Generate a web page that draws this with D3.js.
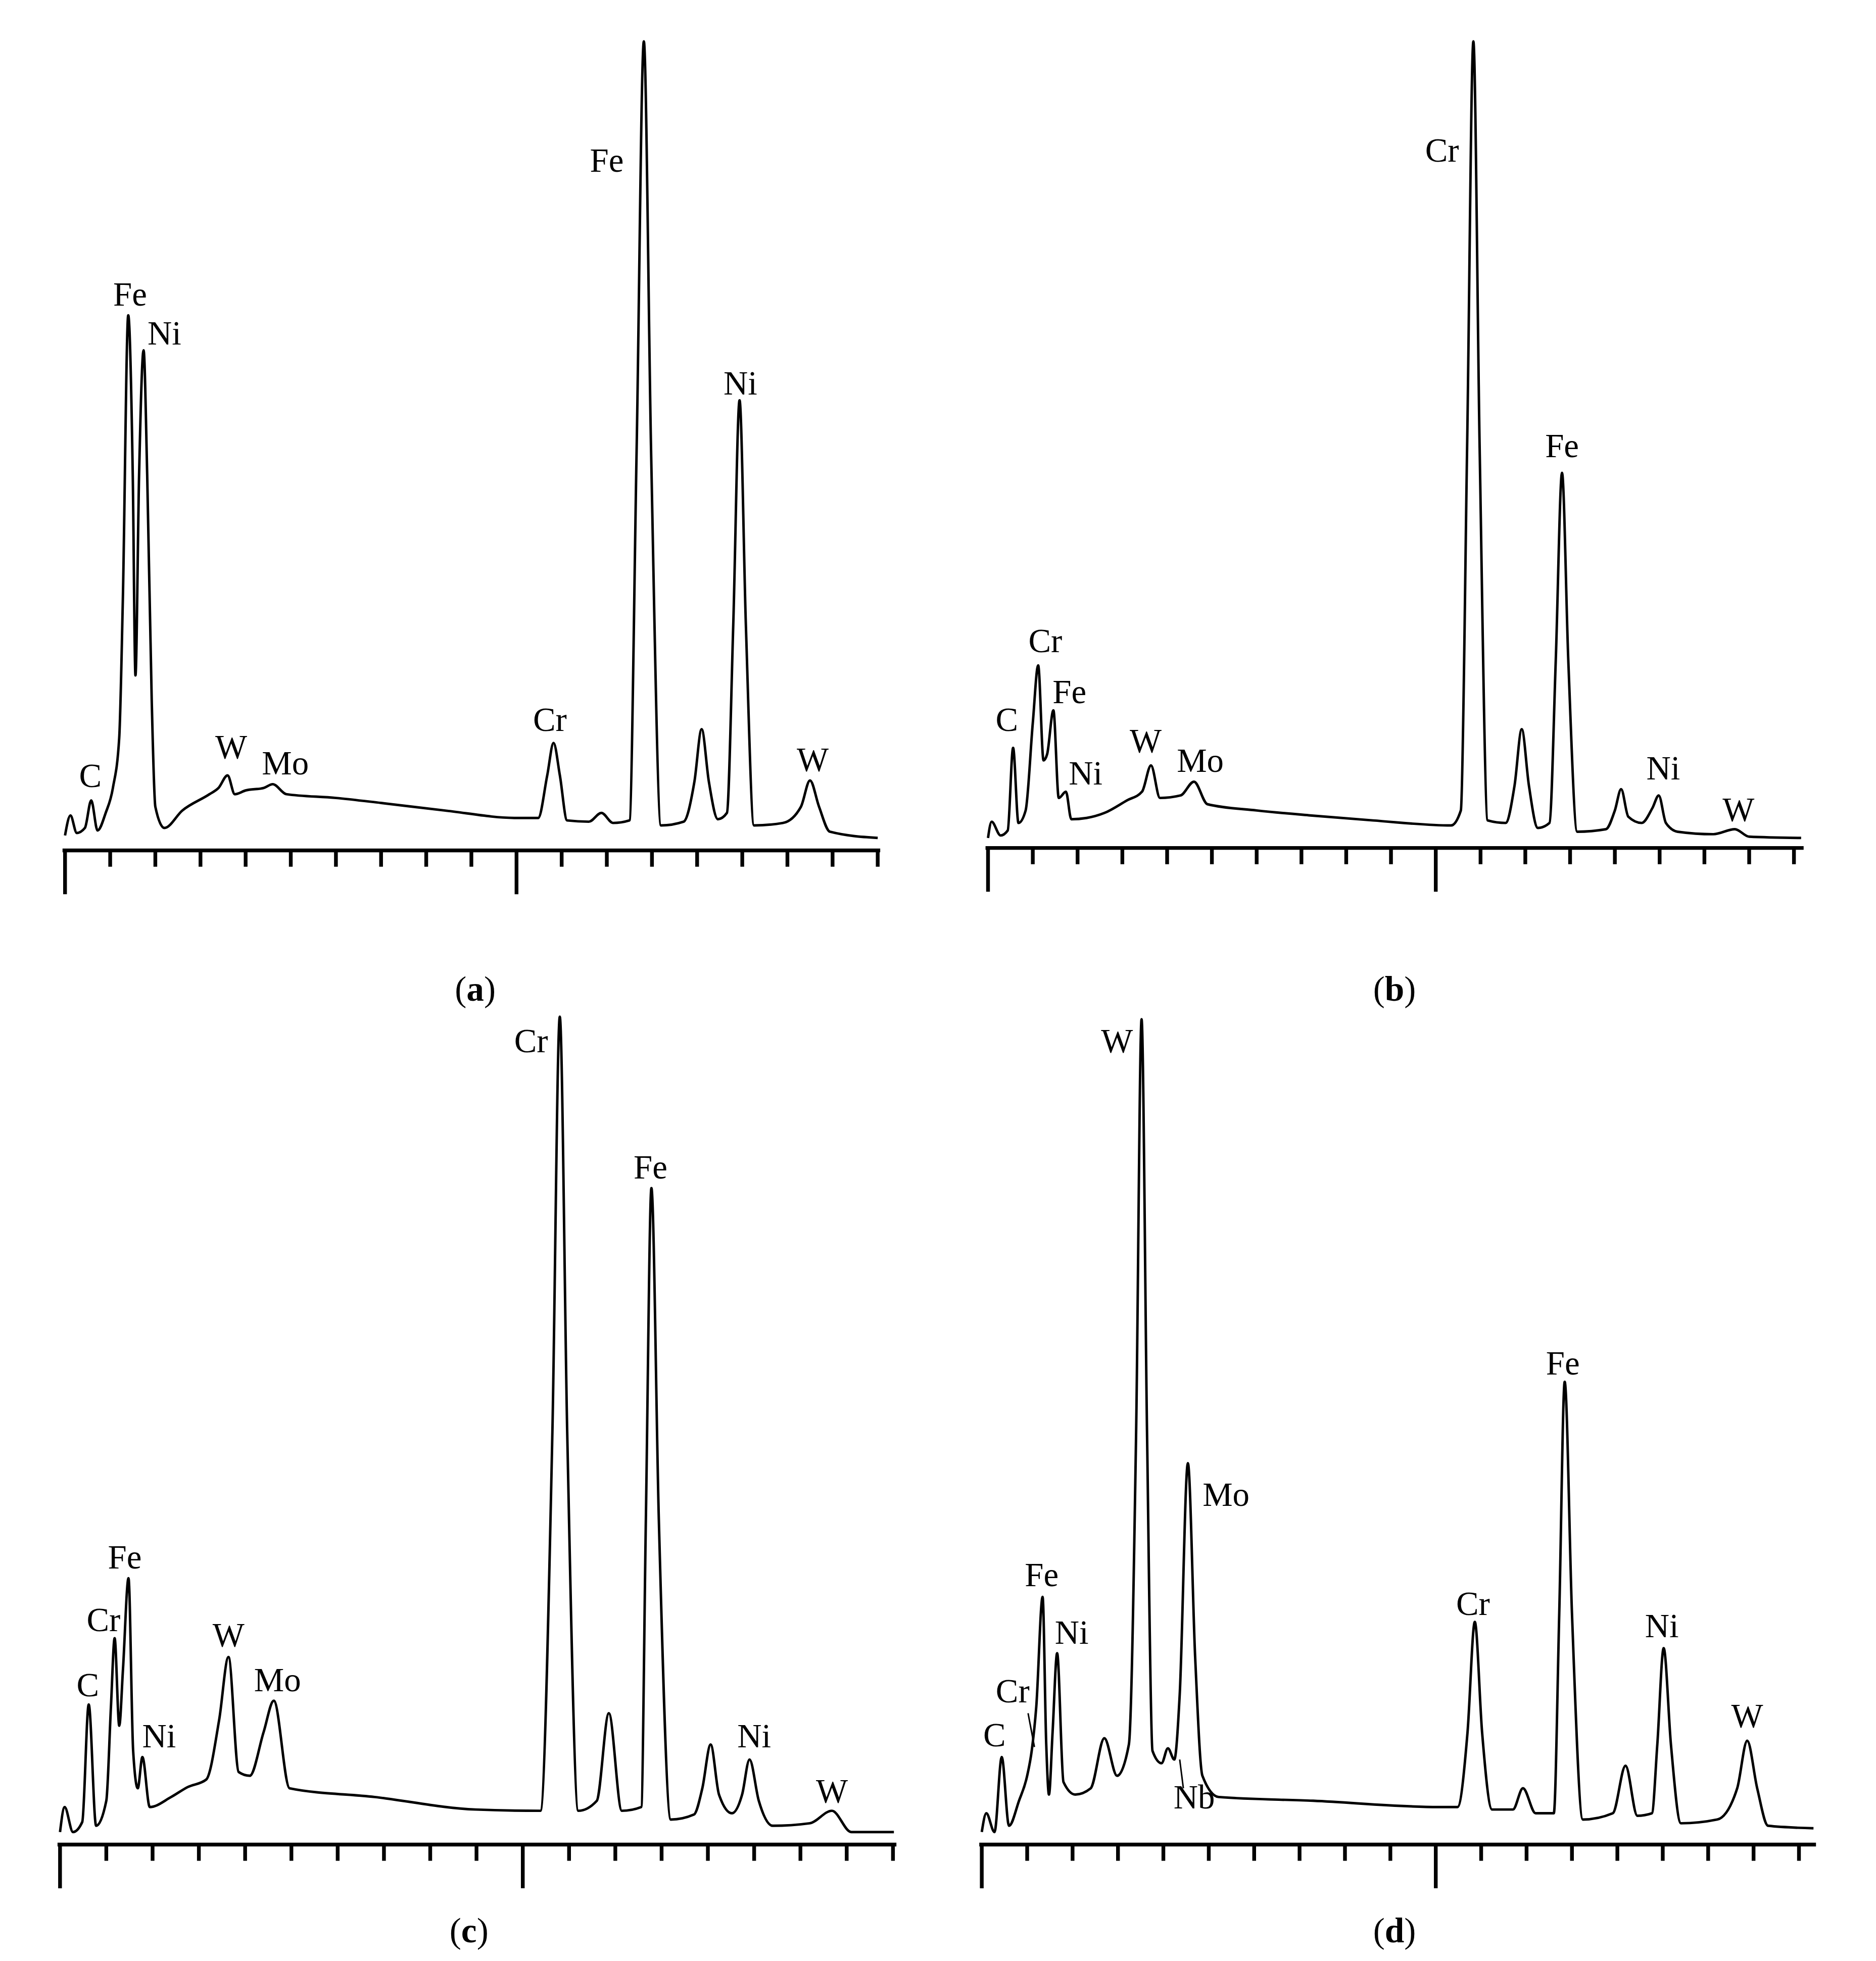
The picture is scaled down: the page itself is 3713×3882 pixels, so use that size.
<!DOCTYPE html>
<html>
<head>
<meta charset="utf-8">
<script src="https://cdn.jsdelivr.net/npm/d3@7"></script>
<style>
  body { margin: 0; background: #fff; }
  text { font-family: "Liberation Serif", "DejaVu Serif", serif; }
</style>
</head>
<body>
<div id="chart"></div>
<script>
// spectra: [energy keV, counts (arbitrary)]
const specA = [[0,12],[0.06,28],[0.13,14],[0.22,18],[0.29,40],[0.36,16],[0.45,30],[0.53,50],[0.6,90],[0.64,200],[0.7,428],[0.75,300],[0.78,140],[0.82,300],[0.87,400],[0.91,300],[0.96,120],[1.0,35],[1.1,18],[1.3,32],[1.6,45],[1.7,50],[1.8,60],[1.88,45],[2.0,48],[2.2,50],[2.3,53],[2.45,45],[3.0,42],[3.5,38],[4.2,32],[5.0,26],[5.24,26],[5.34,60],[5.41,86],[5.48,60],[5.56,24],[5.8,23],[5.94,30],[6.07,22],[6.25,24],[6.33,320],[6.41,647],[6.49,320],[6.6,20],[6.85,23],[6.97,55],[7.05,97],[7.13,55],[7.23,25],[7.33,30],[7.40,180],[7.47,360],[7.54,180],[7.63,20],[7.95,22],[8.15,35],[8.25,56],[8.35,35],[8.47,15],[9.0,10]];
const specB = [[0,8],[0.04,21],[0.14,10],[0.22,14],[0.28,80],[0.34,20],[0.42,30],[0.5,100],[0.56,146],[0.62,70],[0.66,75],[0.73,110],[0.79,40],[0.87,45],[0.93,23],[1.1,24],[1.3,28],[1.55,38],[1.72,45],[1.82,66],[1.92,40],[2.15,42],[2.3,53],[2.45,35],[3.0,30],[3.6,26],[4.3,22],[5.17,18],[5.28,30],[5.35,320],[5.42,645],[5.49,320],[5.58,22],[5.78,20],[5.88,50],[5.96,95],[6.04,50],[6.14,16],[6.27,20],[6.34,150],[6.41,300],[6.48,150],[6.58,13],[6.9,15],[7.0,30],[7.07,47],[7.15,25],[7.3,20],[7.42,32],[7.49,42],[7.57,20],[7.7,13],[8.1,11],[8.34,15],[8.5,9],[9.08,8]];
const specC = [[0,10],[0.05,30],[0.14,10],[0.24,18],[0.31,112],[0.39,15],[0.5,35],[0.55,110],[0.59,165],[0.64,95],[0.68,140],[0.74,213],[0.79,75],[0.84,45],[0.89,70],[0.97,30],[1.2,38],[1.38,46],[1.58,52],[1.72,100],[1.82,150],[1.93,58],[2.05,55],[2.2,90],[2.31,115],[2.48,45],[3.4,38],[4.49,28],[5.19,27],[5.32,330],[5.4,662],[5.48,330],[5.6,27],[5.8,35],[5.93,105],[6.07,27],[6.28,30],[6.33,260],[6.39,525],[6.47,260],[6.6,20],[6.85,24],[6.94,45],[7.03,80],[7.12,40],[7.26,25],[7.37,40],[7.45,68],[7.55,35],[7.7,15],[8.1,17],[8.34,27],[8.55,10],[9.01,10]];
const specD = [[0,10],[0.05,25],[0.14,10],[0.22,70],[0.3,15],[0.41,35],[0.5,55],[0.55,75],[0.6,110],[0.67,198],[0.71,80],[0.74,40],[0.78,90],[0.83,153],[0.9,50],[1.03,40],[1.2,45],[1.35,85],[1.49,55],[1.62,80],[1.7,330],[1.76,660],[1.82,330],[1.88,75],[1.98,65],[2.05,77],[2.12,68],[2.18,120],[2.27,305],[2.35,150],[2.43,55],[2.61,38],[3.65,35],[5.03,30],[5.24,30],[5.35,90],[5.43,178],[5.51,90],[5.62,28],[5.85,28],[5.96,45],[6.1,25],[6.3,25],[6.36,185],[6.42,370],[6.5,185],[6.62,20],[6.95,25],[7.09,63],[7.22,23],[7.38,25],[7.44,80],[7.51,157],[7.59,80],[7.7,17],[8.1,20],[8.32,45],[8.43,83],[8.54,45],[8.66,15],[9.16,13]];

// peak labels: [text, keV, counts]
const labelsA = [["C",0.28,60],["Fe",0.72,445],["Ni",1.1,414],["W",1.84,83],["Mo",2.44,70],["Cr",5.37,105],["Fe",6.0,552],["Ni",7.48,374],["W",8.28,73]];
const labelsB = [["C",0.21,103],["Cr",0.64,166],["Fe",0.91,125],["Ni",1.09,60],["W",1.76,86],["Mo",2.37,70],["Cr",5.07,558],["Fe",6.41,322],["Ni",7.54,64],["W",8.38,31]];
const labelsC = [["C",0.3,128],["Cr",0.47,180],["Fe",0.7,230],["Ni",1.07,87],["W",1.82,168],["Mo",2.35,132],["Cr",5.09,643],["Fe",6.38,542],["Ni",7.5,87],["W",8.34,43]];
const labelsD = [["C",0.14,88],["Cr",0.34,123],["Fe",0.66,216],["Ni",0.99,170],["W",1.49,643],["Mo",2.69,280],["Nb",2.34,38],["Cr",5.41,193],["Fe",6.4,385],["Ni",7.49,175],["W",8.43,103]];
const leadersD = [[[0.51,105],[0.58,78]],[[2.18,68],[2.22,45]]];

const ticks = d3.range(0, 9.01, 0.5);
const captions = ["a", "b", "c", "d"];

const W = 1500, H = 1568;
const svg = d3.select("#chart").append("svg")
    .attr("width", 3713).attr("height", 3882)
    .attr("viewBox", `0 0 ${W} ${H}`);

const panels = [
    {spec: specA, labels: labelsA, leaders: [], x0: 52, k: 72.2, axisY: 680, capX: 380, capY: 800},
    {spec: specB, labels: labelsB, leaders: [], x0: 790, k: 71.6, axisY: 678, capX: 1115, capY: 800},
    {spec: specC, labels: labelsC, leaders: [], x0: 48, k: 74, axisY: 1475, capX: 375, capY: 1553},
    {spec: specD, labels: labelsD, leaders: leadersD, x0: 785, k: 72.6, axisY: 1475, capX: 1115, capY: 1553}
];

panels.forEach((p, i) => {
    const g = svg.append("g");
    const xMax = d3.max(p.spec, d => d[0]);
    const x = d3.scaleLinear().domain([0, 9]).range([p.x0, p.x0 + 9 * p.k]);
    const y = d3.scaleLinear().domain([0, 700]).range([p.axisY, p.axisY - 700]);

    // axis line + ticks
    g.append("line")
        .attr("x1", x(0) - 2).attr("x2", x(Math.max(9, xMax)) + 2)
        .attr("y1", p.axisY).attr("y2", p.axisY)
        .attr("stroke", "#000").attr("stroke-width", 3);
    g.selectAll(".tick").data(ticks).join("line")
        .attr("x1", d => x(d)).attr("x2", d => x(d))
        .attr("y1", p.axisY)
        .attr("y2", d => p.axisY + (d % 5 === 0 ? 35 : 13))
        .attr("stroke", "#000").attr("stroke-width", 3);

    // spectrum
    const line = d3.line().x(d => x(d[0])).y(d => y(d[1])).curve(d3.curveMonotoneX);
    g.append("path").datum(p.spec)
        .attr("d", line)
        .attr("fill", "none").attr("stroke", "#000").attr("stroke-width", 2);

    g.selectAll(".lbl").data(p.labels).join("text")
        .attr("x", d => x(d[1])).attr("y", d => y(d[2]))
        .attr("text-anchor", "middle").attr("dominant-baseline", "central")
        .attr("font-size", 27)
        .text(d => d[0]);

    p.leaders.forEach(l => {
        g.append("line")
            .attr("x1", x(l[0][0])).attr("y1", y(l[0][1]))
            .attr("x2", x(l[1][0])).attr("y2", y(l[1][1]))
            .attr("stroke", "#000").attr("stroke-width", 1.2);
    });

    const cap = g.append("text").attr("x", p.capX).attr("y", p.capY)
        .attr("text-anchor", "middle").attr("font-size", 28);
    cap.append("tspan").text("(");
    cap.append("tspan").attr("font-weight", "bold").text(captions[i]);
    cap.append("tspan").text(")");
});
</script>
</body>
</html>
